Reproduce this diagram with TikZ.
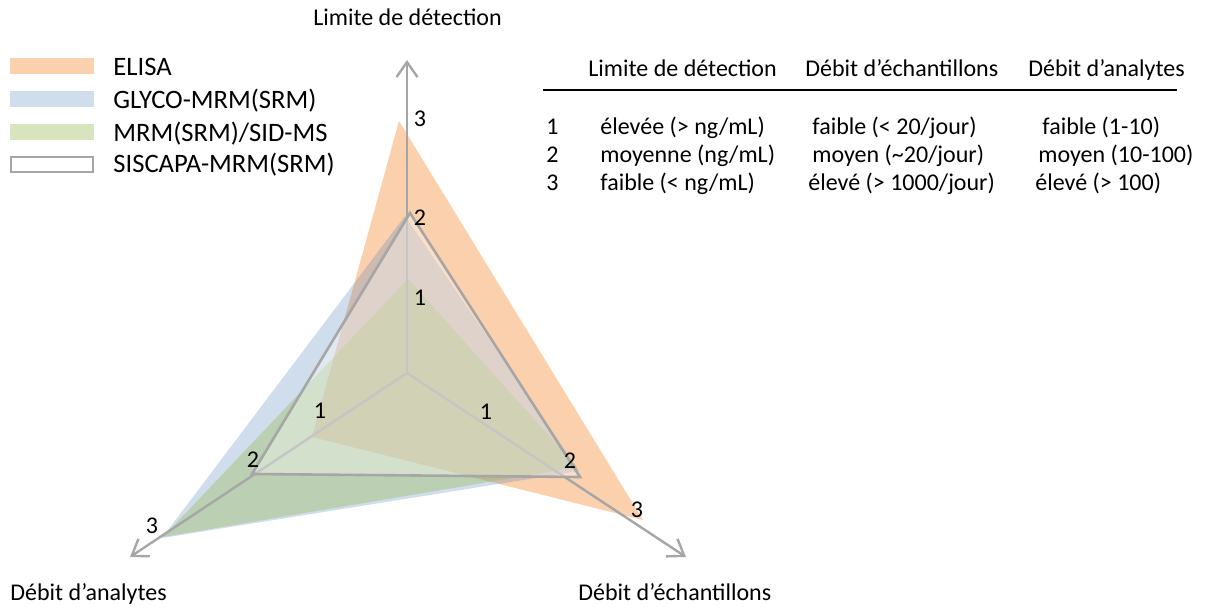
\documentclass[tikz,border=0pt]{standalone}
\usepackage{fontspec}
\setmainfont{Carlito}
\usetikzlibrary{arrows.meta}
\definecolor{axisgray}{HTML}{A6A6A6}
\definecolor{elisaC}{HTML}{F79646}
\definecolor{glycoC}{HTML}{4F81BD}
\definecolor{mrmC}{HTML}{9BBB59}
\tikzset{
  axisline/.style={draw=axisgray, line width=1.2pt, -{Straight Barb[length=7.5pt,width=10.5pt]}},
  elisafill/.style={fill=elisaC, fill opacity=0.45},
  glycofill/.style={fill=glycoC, fill opacity=0.27},
  mrmfill/.style={fill=mrmC, fill opacity=0.40},
  siscapa/.style={draw=axisgray, line width=1.3pt, fill=white, fill opacity=0.35, line join=miter},
  txt/.style={inner sep=0pt, font=\fontsize{12}{14}\selectfont},
  legtxt/.style={inner sep=0pt, anchor=base west, font=\fontsize{13.3}{15}\selectfont},
  tick/.style={inner sep=0pt, anchor=center, font=\fontsize{12}{14}\selectfont},
}
\begin{document}
\begin{tikzpicture}[x=0.5pt, y=-0.5pt]
\useasboundingbox (0,0) rectangle (1209,609);

% radar frame
\coordinate (C) at (407,373);
\coordinate (T) at (407,60);
\coordinate (L) at (130,557);
\coordinate (R) at (686,557);

% series
\fill[elisafill] (399,121) -- (643,520) -- (312,437) -- cycle;
\fill[glycofill] (405,216) -- (579,471) -- (162,538) -- cycle;
\fill[mrmfill] (408,279) -- (577,467) -- (163,537) -- cycle;

% axes
\draw[axisline] (C) -- (T);
\draw[axisline] (C) -- (L);
\draw[axisline] (C) -- (R);

% SISCAPA outline on top
\draw[siscapa] (410,213) -- (580,477) -- (252,474) -- cycle;

% axis values
\node[tick] (t3) at (420,119) {3};
\node[tick] (t2) at (420,218) {2};
\node[tick] (t1) at (420,297.5) {1};
\node[tick] (l1) at (320,411) {1};
\node[tick] (l2) at (253,460) {2};
\node[tick] (l3) at (152,526) {3};
\node[tick] (r1) at (486,412) {1};
\node[tick] (r2) at (570,461) {2};
\node[tick] (r3) at (637,510) {3};

% axis titles
\node[txt, anchor=base] (ttop) at (407.5,26) {Limite de détection};
\node[txt, anchor=base west] (tleft) at (10,600) {Débit d’analytes};
\node[txt, anchor=base west] (tright) at (578,600) {Débit d’échantillons};

% legend
\fill[elisafill] (10,58) rectangle (94,74);
\fill[glycofill] (10,91) rectangle (94,107);
\fill[mrmfill] (10,124) rectangle (94,140);
\draw[draw=axisgray, line width=1.1pt] (11,157) rectangle (93,172);
\node[legtxt] (le) at (113,75.5) {ELISA};
\node[legtxt] (lg) at (113,108.5) {GLYCO-MRM(SRM)};
\node[legtxt] (lm) at (113,141.5) {MRM(SRM)/SID-MS};
\node[legtxt] (ls) at (113,172.5) {SISCAPA-MRM(SRM)};

% value table
\node[txt, anchor=base west] (h1) at (588,77) {Limite de détection};
\node[txt, anchor=base west] (h2) at (805,77) {Débit d’échantillons};
\node[txt, anchor=base west] (h3) at (1028,77) {Débit d’analytes};
\draw[line width=1pt] (543,90) -- (1177,90);

\node[txt, anchor=base west] (n1) at (546,135) {1};
\node[txt, anchor=base west] (n2) at (546,163) {2};
\node[txt, anchor=base west] (n3) at (546,191) {3};

\node[txt, anchor=base west] (a1) at (600,135) {élevée (> ng/mL)};
\node[txt, anchor=base west] (a2) at (600,163) {moyenne (ng/mL)};
\node[txt, anchor=base west] (a3) at (600,191) {faible (< ng/mL)};

\node[txt, anchor=base west] (b1) at (812,135) {faible (< 20/jour)};
\node[txt, anchor=base west] (b2) at (812,163) {moyen (\textasciitilde 20/jour)};
\node[txt, anchor=base west] (b3) at (808,191) {élevé (> 1000/jour)};

\node[txt, anchor=base west] (c1) at (1042,135) {faible (1-10)};
\node[txt, anchor=base west] (c2) at (1038,163) {moyen (10-100)};
\node[txt, anchor=base west] (c3) at (1035,191) {élevé (> 100)};
\end{tikzpicture}
\end{document}
